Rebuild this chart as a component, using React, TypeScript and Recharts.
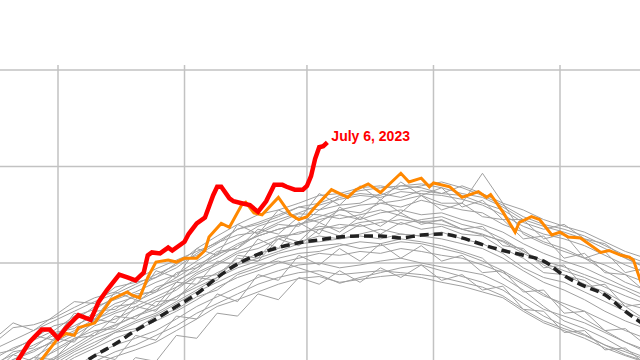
import React from "react";
import { LineChart, Line, XAxis, YAxis, CartesianGrid, LabelList } from "recharts";

// day-of-year sample points for the historical (gray) years and the 1979-2000 mean
const days = [105,110,115,120,125,130,135,140,145,150,155,160,165,170,175,180,185,190,195,200,205,210,215,220,225,230,235,240,245,250,255,260,265];

const climMean = [14.40,14.52,14.64,14.76,14.90,15.04,15.16,15.30,15.42,15.55,15.68,15.85,15.99,16.09,16.16,16.21,16.24,16.27,16.28,16.28,16.26,16.29,16.30,16.26,16.19,16.13,16.08,16.02,15.87,15.76,15.67,15.50,15.35];

const yearA = [15.16,15.33,15.36,15.43,15.54,15.64,15.70,15.83,15.94,16.03,16.12,16.21,16.29,16.32,16.42,16.51,16.50,16.46,16.50,16.55,16.49,16.43,16.44,16.35,16.29,16.23,16.13,15.98,15.87,15.82,15.66,15.55,15.41];
const yearB = [14.35,14.45,14.58,14.66,14.80,14.95,15.03,15.10,15.18,15.30,15.42,15.55,15.62,15.70,15.78,15.84,15.86,15.80,15.83,15.86,15.88,15.85,15.80,15.76,15.70,15.64,15.50,15.38,15.30,15.22,15.12,15.04,14.97];
const yearC = [15.05,15.10,15.22,15.35,15.40,15.55,15.62,15.70,15.80,15.88,16.02,16.15,16.25,16.38,16.45,16.52,16.60,16.66,16.70,16.68,16.74,16.72,16.70,16.66,16.60,16.50,16.38,16.30,16.25,16.18,16.08,15.98,15.90];
const yearD = [14.90,15.00,15.08,15.20,15.30,15.42,15.50,15.60,15.70,15.80,15.95,16.05,16.18,16.28,16.35,16.40,16.48,16.55,16.60,16.62,16.65,16.70,16.62,16.62,16.93,16.62,16.30,16.20,16.12,16.05,15.92,15.80,15.72];
const yearE = [14.70,14.82,14.92,15.02,15.15,15.28,15.36,15.45,15.52,15.65,15.78,15.90,16.00,16.10,16.15,16.22,16.28,16.25,16.30,16.35,16.30,16.28,16.32,16.25,16.20,16.10,15.95,15.85,15.80,15.70,15.60,15.50,15.40];
const yearF = [14.55,14.70,14.78,14.90,15.02,15.12,15.22,15.30,15.40,15.50,15.62,15.75,15.85,15.92,16.00,16.05,16.10,16.08,16.12,16.10,16.15,16.12,16.08,16.05,15.98,15.90,15.78,15.66,15.58,15.50,15.40,15.30,15.22];
const yearG = [14.95,15.05,15.15,15.25,15.35,15.45,15.58,15.65,15.72,15.85,15.98,16.08,16.20,16.28,16.35,16.40,16.45,16.50,16.45,16.52,16.55,16.50,16.52,16.45,16.40,16.32,16.20,16.10,16.02,15.95,15.85,15.75,15.66];
const yearH = [14.80,14.95,14.90,15.10,15.22,15.25,15.45,15.42,15.60,15.62,15.85,15.88,16.05,16.02,16.25,16.18,16.35,16.28,16.40,16.30,16.42,16.35,16.38,16.30,16.28,16.15,16.05,15.90,15.88,15.78,15.70,15.58,15.52];
const yearI = [14.45,14.55,14.68,14.78,14.92,15.05,15.15,15.22,15.30,15.42,15.55,15.65,15.75,15.85,15.92,15.98,16.00,15.95,15.98,16.02,16.05,16.00,15.96,15.92,15.88,15.78,15.65,15.52,15.45,15.38,15.28,15.18,15.10];
const yearJ = [14.60,14.72,14.85,14.95,15.08,15.18,15.28,15.38,15.46,15.58,15.70,15.80,15.90,15.98,16.02,15.95,15.88,15.79,15.85,15.90,15.95,15.98,15.92,15.86,15.80,15.72,15.58,15.45,15.35,15.26,15.15,15.05,14.98];
const yearK = [15.00,15.12,15.20,15.30,15.45,15.52,15.65,15.75,15.85,15.95,16.10,16.22,16.35,16.42,16.50,16.58,16.62,16.70,16.75,16.78,16.80,16.82,16.78,16.72,16.68,16.58,16.45,16.38,16.32,16.25,16.15,16.05,15.96];
const yearL = [14.72,14.85,14.98,15.08,15.20,15.35,15.42,15.52,15.62,15.72,15.88,15.98,16.10,16.15,16.25,16.32,16.35,16.40,16.38,16.42,16.45,16.42,16.40,16.35,16.30,16.22,16.10,16.00,15.92,15.85,15.75,15.66,15.58];
const yearM = [14.65,14.78,14.85,14.98,15.10,15.22,15.30,15.40,15.48,15.60,15.72,15.85,15.95,16.02,16.10,16.15,16.18,16.20,16.15,16.18,16.22,16.20,16.15,16.10,16.02,15.92,15.80,15.68,15.55,15.42,15.30,15.18,15.08];
const yearN = [15.10,15.20,15.30,15.40,15.50,15.60,15.68,15.78,15.88,15.98,16.15,16.28,16.40,16.50,16.55,16.62,16.70,16.72,16.78,16.80,16.76,16.80,16.84,16.78,16.70,16.60,16.48,16.40,16.35,16.28,16.18,16.08,16.00];
const yearO = [14.85,14.92,15.02,15.15,15.25,15.38,15.48,15.55,15.65,15.75,15.90,16.00,16.12,16.20,16.28,16.30,16.38,16.36,16.42,16.45,16.40,16.45,16.48,16.40,16.35,16.25,16.12,16.02,15.96,15.88,15.80,15.72,15.62];
const yearP = [14.40,14.50,14.62,14.72,14.85,14.98,15.08,15.15,15.25,15.35,15.48,15.58,15.68,15.78,15.85,15.90,15.92,15.88,15.90,15.92,15.90,15.88,15.85,15.80,15.75,15.66,15.52,15.40,15.32,15.25,15.15,15.08,15.00];
const yearQ = [14.92,15.08,15.12,15.28,15.32,15.50,15.52,15.68,15.70,15.90,15.95,16.12,16.15,16.35,16.30,16.48,16.42,16.55,16.52,16.62,16.58,16.65,16.60,16.55,16.52,16.40,16.32,16.22,16.15,16.05,15.98,15.88,15.80];
const yearR = [14.68,14.80,14.90,15.00,15.12,15.25,15.35,15.45,15.55,15.65,15.75,15.85,15.98,16.05,16.12,16.20,16.22,16.25,16.28,16.25,16.30,16.28,16.25,16.20,16.15,16.05,15.92,15.80,15.72,15.62,15.50,15.40,15.32];
const yearS = [14.85,15.05,14.98,15.22,15.18,15.42,15.38,15.62,15.55,15.80,15.78,16.02,15.98,16.25,16.15,16.42,16.30,16.58,16.45,16.66,16.52,16.70,16.55,16.62,16.48,16.45,16.25,16.28,16.05,16.10,15.90,15.88,15.70];
const yearT = [14.50,14.68,14.62,14.85,14.80,15.05,15.00,15.25,15.20,15.45,15.42,15.68,15.60,15.88,15.82,16.08,15.98,16.15,16.02,16.20,16.05,16.18,16.02,16.08,15.90,15.92,15.70,15.72,15.48,15.50,15.30,15.32,15.15];
const yearU = [15.00,14.95,15.25,15.20,15.48,15.42,15.70,15.62,15.92,15.85,16.15,16.08,16.40,16.30,16.55,16.45,16.72,16.60,16.80,16.65,16.84,16.70,16.78,16.58,16.65,16.45,16.45,16.25,16.30,16.05,16.12,15.90,15.95];
const yearV = [14.30,14.45,14.42,14.62,14.58,14.82,14.80,15.02,14.98,15.25,15.22,15.48,15.45,15.68,15.62,15.85,15.78,15.92,15.80,15.95,15.85,15.98,15.82,15.88,15.72,15.76,15.52,15.50,15.28,15.30,15.10,15.12,14.95];
const yearW = [14.78,14.88,15.02,15.00,15.22,15.30,15.32,15.55,15.50,15.75,15.85,15.82,16.08,16.05,16.28,16.22,16.42,16.32,16.48,16.38,16.52,16.40,16.45,16.35,16.38,16.18,16.15,15.95,15.98,15.75,15.78,15.55,15.58];
const yearX = [14.88,15.00,15.10,15.18,15.28,15.40,15.55,15.58,15.75,15.82,15.92,16.10,16.15,16.30,16.40,16.38,16.55,16.60,16.62,16.72,16.68,16.75,16.72,16.80,16.72,16.62,16.55,16.45,16.38,16.32,16.22,16.12,16.05];
const yearY = [14.62,14.75,14.88,14.92,15.05,15.15,15.28,15.32,15.45,15.52,15.65,15.72,15.88,15.95,16.05,16.10,16.12,16.18,16.22,16.20,16.25,16.22,16.18,16.12,16.05,15.85,15.72,15.55,15.40,15.32,15.22,15.10,15.02];
const yearZ = [15.20,15.38,15.30,15.45,15.60,15.58,15.75,15.80,15.85,16.00,16.08,16.20,16.35,16.40,16.48,16.58,16.55,16.68,16.72,16.70,16.80,16.78,16.72,16.70,16.62,16.55,16.42,16.35,16.40,16.25,16.20,16.05,15.95];

const grayYears = [yearA, yearB, yearC, yearD, yearE, yearF, yearG, yearH, yearI, yearJ, yearK, yearL, yearM, yearN, yearO, yearP, yearQ, yearR, yearS, yearT, yearU, yearV, yearW, yearX, yearY, yearZ];

// 2023 (red)
const redDays = [107,111,114,117,119,121,123,126,129,131,133,136,138,140,142,143,144,146,148,149,152,153,155,157,159,160,161,163,164,166,168,170,172,174,176,177,179,181,182,183,184,185,186,187];
const redTemps = [14.75,14.98,15.18,15.31,15.31,15.22,15.33,15.46,15.41,15.60,15.72,15.88,15.85,15.82,15.90,16.08,16.11,16.10,16.16,16.13,16.22,16.30,16.41,16.47,16.70,16.79,16.79,16.67,16.64,16.62,16.60,16.53,16.64,16.81,16.81,16.79,16.76,16.76,16.80,16.90,17.08,17.20,17.21,17.25];

// orange year
const orangeDays = [110,117,121,123,125,126,130,134,138,139,141,143,145,148,150,152,155,157,158,161,163,166,167,169,171,175,178,180,182,184,188,189,192,194,197,200,205,207,210,212,213,217,220,224,226,227,230,233,234,237,239,242,244,246,249,254,256,259,261,262,264];
const orangeTemps = [14.70,15.00,15.22,15.27,15.25,15.33,15.38,15.62,15.70,15.67,15.64,15.85,16.01,16.03,16.01,16.05,16.05,16.13,16.27,16.41,16.37,16.60,16.63,16.52,16.50,16.68,16.50,16.45,16.48,16.58,16.76,16.74,16.68,16.76,16.82,16.73,16.93,16.84,16.88,16.79,16.83,16.79,16.68,16.74,16.68,16.71,16.53,16.32,16.42,16.48,16.45,16.29,16.32,16.27,16.26,16.11,16.13,16.08,16.06,16.03,15.78];

const monthStarts = [121, 152, 182, 213, 244];
const tempTicks = [15, 16, 17, 18];
const annotation = "July 6, 2023";

const mainData = days.map((d, i) => {
  const row: Record<string, number> = { d, clim: climMean[i] };
  grayYears.forEach((arr, k) => {
    row["g" + k] = arr[i];
  });
  return row;
});
const redData = redDays.map((d, i) => ({ d, t: redTemps[i] }));
const orangeData = orangeDays.map((d, i) => ({ d, t: orangeTemps[i] }));

const RedLabel = (props: any) => {
  const { x, y, index } = props;
  if (index !== redData.length - 1) return null;
  return (
    <text
      x={x + 4}
      y={y - 1}
      fill="#ff0000"
      fontFamily="'Liberation Sans', Arial, sans-serif"
      fontWeight="bold"
      fontSize={14}
    >
      {annotation}
    </text>
  );
};

export default function App() {
  return (
    <div style={{ position: "absolute", left: 0, top: 0, width: 640, height: 360, background: "#fff" }}>
      <LineChart
        width={640}
        height={360}
        data={mainData}
        margin={{ top: 65, right: 0, bottom: 0, left: 0 }}
      >
        <CartesianGrid
          stroke="#c2c2c2"
          strokeWidth={1.5}
          horizontalValues={tempTicks}
          verticalValues={monthStarts}
        />
        <XAxis
          type="number"
          dataKey="d"
          domain={[106.79, 263.6]}
          ticks={monthStarts}
          allowDataOverflow
          hide
        />
        <YAxis
          type="number"
          domain={[14.995, 18.052]}
          ticks={tempTicks}
          allowDataOverflow
          hide
        />
        {grayYears.map((_, k) => (
          <Line
            key={"g" + k}
            dataKey={"g" + k}
            stroke="#a0a0a0"
            strokeWidth={1}
            dot={false}
            activeDot={false}
            isAnimationActive={false}
            type="linear"
          />
        ))}
        <Line
          dataKey="clim"
          stroke="#222222"
          strokeWidth={3.5}
          strokeDasharray="9 5"
          dot={false}
          activeDot={false}
          isAnimationActive={false}
          type="monotone"
        />
        <Line
          data={orangeData}
          dataKey="t"
          stroke="#ff8800"
          strokeWidth={3}
          dot={false}
          activeDot={false}
          isAnimationActive={false}
          type="linear"
        />
        <Line
          data={redData}
          dataKey="t"
          stroke="#ff0000"
          strokeWidth={4.5}
          dot={false}
          activeDot={false}
          isAnimationActive={false}
          type="linear"
        >
          <LabelList dataKey="t" content={RedLabel} />
        </Line>
      </LineChart>
    </div>
  );
}
